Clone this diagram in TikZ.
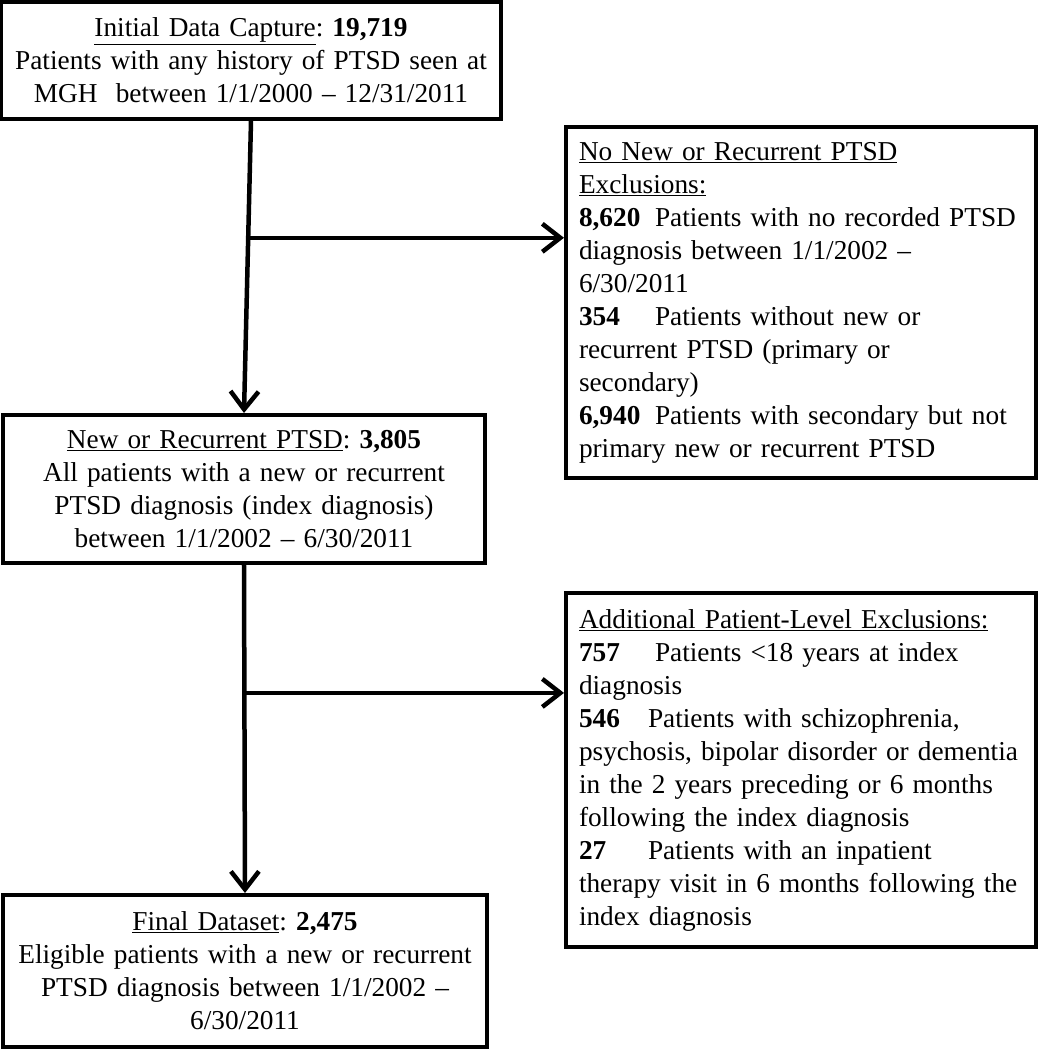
\documentclass[tikz,border=0pt]{standalone}
\usepackage{fontspec}
\setmainfont{Liberation Serif}
\usetikzlibrary{arrows.meta, calc}
\frenchspacing

\tikzstyle{stage} = [rectangle, draw=black, line width=4pt, inner xsep=2pt, text width=476pt, align=center, font=\fontsize{27.3pt}{33pt}\selectfont]
\tikzstyle{excl} = [rectangle, draw=black, line width=4pt, inner xsep=13pt, text width=444pt, minimum width=470pt, align=left, font=\fontsize{27.3pt}{33pt}\selectfont]
\tikzstyle{arrow} = [line width=4.5pt, -{Straight Barb[length=18pt, width=28pt]}]

\newcommand{\cnt}[2][76pt]{\makebox[#1][l]{\textbf{#2}}}

\begin{document}
\begin{tikzpicture}[node distance=450pt]

\useasboundingbox (-251pt,60.5pt) rectangle (787pt,-989.5pt);

\node (start) [stage, minimum width=500pt, minimum height=117pt] {\underline{Initial Data Capture}: \textbf{19,719}\\ Patients with any history of PTSD seen at\\ MGH \ between 1/1/2000 -- 12/31/2011};

\node (new) [stage, below of=start, yshift=21.5pt, xshift=-7pt, minimum width=482pt, minimum height=148pt] {\underline{New or Recurrent PTSD}: \textbf{3,805}\\ All patients with a new or recurrent\\ PTSD diagnosis (index diagnosis)\\ between 1/1/2002 -- 6/30/2011};

\node (final) [stage, below of=new, yshift=-32pt, xshift=1pt, minimum width=484pt, minimum height=152pt] {\underline{Final Dataset}: \textbf{2,475}\\ Eligible patients with a new or recurrent\\ PTSD diagnosis between 1/1/2002 --\\ 6/30/2011};

\node (excl1) [excl, right of=start, xshift=100pt, yshift=-242pt, minimum height=351pt] {\underline{No New or Recurrent PTSD}\\ \underline{Exclusions:}\\ \cnt{8,620}Patients with no recorded PTSD\\ diagnosis between 1/1/2002 --\\ 6/30/2011\\ \cnt{354}Patients without new or\\ recurrent PTSD (primary or\\ secondary)\\ \cnt{6,940}Patients with secondary but not\\ primary new or recurrent PTSD};

\node (excl2) [excl, below of=excl1, yshift=-17.5pt, minimum height=354pt] {\underline{Additional Patient-Level Exclusions:}\\ \cnt{757}Patients <18 years at index\\ diagnosis\\ \cnt[69pt]{546}Patients with schizophrenia,\\ psychosis, bipolar disorder or dementia\\ in the 2 years preceding or 6 months\\ following the index diagnosis\\ \cnt[69pt]{27}Patients with an inpatient\\ therapy visit in 6 months following the\\ index diagnosis};

\coordinate (j1) at ($(start.south)!0.4!(new.north)$);
\coordinate (j2) at ($(new.south)!0.39!(final.north)$);

\draw [arrow] (start.south) -- (new.north);
\draw [arrow] (new.south) -- (final.north);

\draw [arrow] (j1) -- (j1 -| excl1.west);
\draw [arrow] (j2) -- (j2 -| excl2.west);

\end{tikzpicture}
\end{document}
